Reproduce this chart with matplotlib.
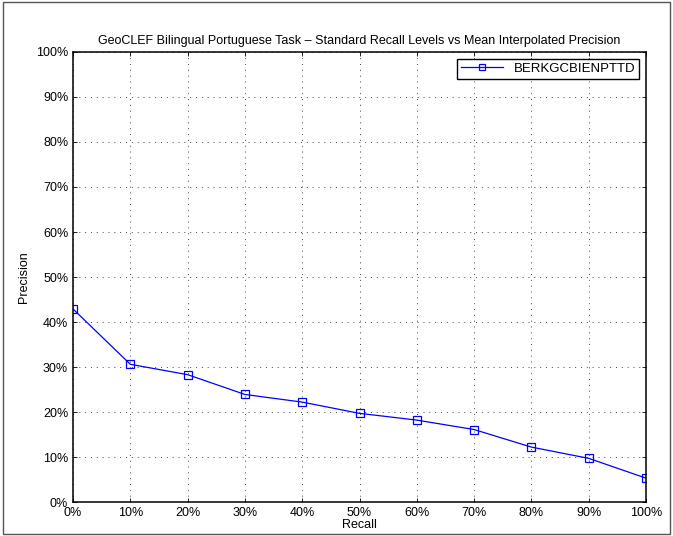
import numpy as np
import matplotlib.pyplot as plt
from matplotlib.ticker import PercentFormatter
from matplotlib.patches import Rectangle

plt.rcParams['font.family'] = ['Liberation Sans', 'DejaVu Sans']

recall = [0, 10, 20, 30, 40, 50, 60, 70, 80, 90, 100]
precision = [42.9, 30.6, 28.3, 23.9, 22.2, 19.7, 18.2, 16.1, 12.2, 9.7, 5.3]
run_name = 'BERKGCBIENPTTD'

fig = plt.figure(figsize=(6.73, 5.36), dpi=100)
ax = fig.add_axes([0.1085, 0.0634, 0.8515, 0.8396])

ax.plot(recall, precision, color='blue', lw=0.9, marker='s', ms=6,
        mfc='none', mec='blue', mew=0.9, label=run_name)

ax.set_xlim(0, 100)
ax.set_ylim(0, 100)
ax.set_xticks(np.arange(0, 101, 10))
ax.set_yticks(np.arange(0, 101, 10))
ax.xaxis.set_major_formatter(PercentFormatter(decimals=0))
ax.yaxis.set_major_formatter(PercentFormatter(decimals=0))
ax.tick_params(direction='in', top=True, right=True, labelsize=9, length=3, width=0.6)
ax.grid(True, ls=(0, (1, 5)), color='#444444', lw=0.7)
for s in ax.spines.values():
    s.set_linewidth(1.1)

ax.set_title('GeoCLEF Bilingual Portuguese Task \u2013 Standard Recall Levels vs Mean Interpolated Precision',
             fontsize=9, pad=6)
ax.set_xlabel('Recall', fontsize=9, labelpad=0)
ax.set_ylabel('Precision', fontsize=9, labelpad=4)

leg = ax.legend(loc='upper right', fontsize=9.5, fancybox=False, framealpha=1,
                edgecolor='black', borderaxespad=0.5, handlelength=3.2,
                markerscale=0.75, borderpad=0.3)
leg.get_frame().set_linewidth(1.0)

fig.patches.append(Rectangle((0.004, 0.004), 0.992, 0.992, transform=fig.transFigure,
                             fill=False, ec='#555555', lw=1))

fig.savefig('out.png', dpi=100)
